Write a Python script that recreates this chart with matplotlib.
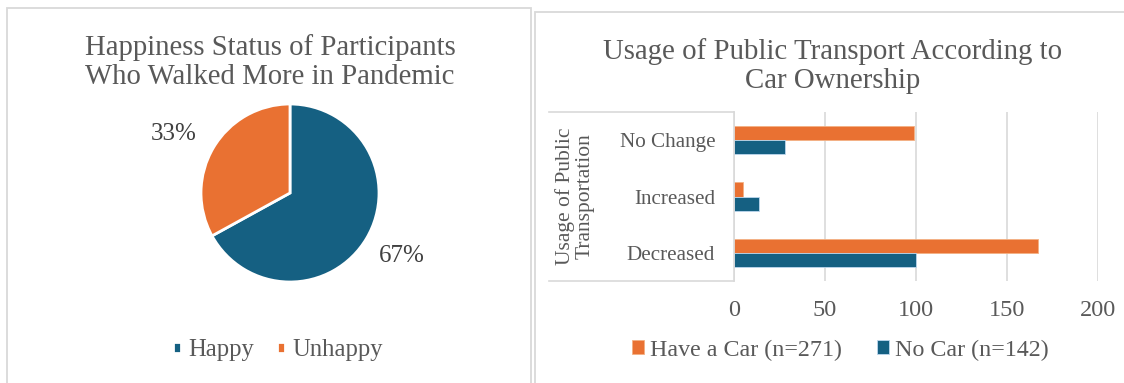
import matplotlib
matplotlib.use('Agg')
import matplotlib.pyplot as plt
from matplotlib.patches import Rectangle
import numpy as np

# ---- data ----
pie_labels = ['Happy', 'Unhappy']
pie_values = [67, 33]

categories = ['Decreased', 'Increased', 'No Change']
have_car = [167, 5, 99]
no_car = [100, 14, 28]
series_names = ['Have a Car (n=271)', 'No Car (n=142)']
x_ticks = [0, 50, 100, 150, 200]

BLUE = '#156082'
ORANGE = '#E97132'
TEXT = '#595959'
GRID = '#D9D9D9'

plt.rcParams['font.family'] = ['Liberation Serif', 'DejaVu Serif']
plt.rcParams['text.color'] = TEXT

W, H = 1124, 383
fig = plt.figure(figsize=(W / 100, H / 100), dpi=100)


def rect(x0, y0, x1, y1):  # pixel box (top-left origin) -> figure fraction
    return [x0 / W, 1 - y1 / H, (x1 - x0) / W, (y1 - y0) / H]


# panel borders
fig.patches.append(Rectangle((7 / W, -0.05), (531 - 7) / W, 1.05 - 8 / H, transform=fig.transFigure,
                             fill=False, edgecolor=GRID, linewidth=1.3))
fig.patches.append(Rectangle((535 / W, -0.05), 0.6, 1.05 - 12 / H, transform=fig.transFigure,
                             fill=False, edgecolor=GRID, linewidth=1.3))

# ---- pie ----
fig.text(270 / W, 1 - 62 / H, 'Happiness Status of Participants\nWho Walked More in Pandemic',
         ha='center', va='center', fontsize=20.7, color=TEXT, linespacing=1.13)
cx, cy, r = 290, 193, 89
ax1 = fig.add_axes(rect(cx - r, cy - r, cx + r, cy + r))
wedges, texts, autotexts = ax1.pie(pie_values, labels=pie_labels, colors=[BLUE, ORANGE], startangle=90,
                                   counterclock=False, autopct='%1.0f%%', pctdistance=1.46,
                                   labeldistance=None, radius=1,
                                   wedgeprops=dict(edgecolor='white', linewidth=2))
# label spots as in the reference (pixels -> pie units)
autotexts[0].set_position(((402 - cx) / r, (cy - 256) / r))
autotexts[1].set_position(((174 - cx) / r, (cy - 134) / r))
for t in autotexts:
    t.set_fontsize(18)
    t.set_color('#404040')
ax1.set_xlim(-1, 1)
ax1.set_ylim(-1, 1)
ax1.set_aspect('equal')
fig.legend(wedges, pie_labels, loc='center', bbox_to_anchor=(278 / W, 1 - 350 / H), ncol=2, frameon=False,
           fontsize=17.7, handlelength=0.33, handleheight=0.33, handletextpad=0.3, columnspacing=0.95,
           labelcolor=TEXT)

# ---- bars ----
fig.text(833 / W, 1 - 66 / H, 'Usage of Public Transport According to\nCar Ownership',
         ha='center', va='center', fontsize=20.8, color=TEXT, linespacing=1.13)
ax2 = fig.add_axes(rect(734, 112, 1098, 281))
y = np.arange(len(categories))
bh = 0.25
b1 = ax2.barh(y + bh / 2, have_car, height=bh, color=ORANGE, edgecolor='#F4B183', linewidth=0.6)
b2 = ax2.barh(y - bh / 2, no_car, height=bh, color=BLUE, edgecolor='#BDD7EE', linewidth=0.6)
ax2.set_xlim(0, 200)
ax2.set_ylim(-0.5, 2.5)
ax2.set_xticks(x_ticks)
ax2.set_yticks(y)
ax2.set_yticklabels(categories, fontsize=15.2)
ax2.tick_params(axis='y', length=0, pad=13.5, colors=TEXT)
ax2.tick_params(axis='x', length=0, pad=14, labelsize=17.5, colors=TEXT)
ax2.grid(axis='x', color=GRID, linewidth=1.2)
ax2.set_axisbelow(True)
for s in ['top', 'right', 'bottom']:
    ax2.spines[s].set_visible(False)
ax2.spines['left'].set_color(GRID)
ax2.spines['left'].set_linewidth(1.2)
lx = (549 - 734) / (1098 - 734)
ax2.plot([lx, 0], [1, 1], transform=ax2.transAxes, clip_on=False, color=GRID, linewidth=1.2)
ax2.plot([lx, 0], [0, 0], transform=ax2.transAxes, clip_on=False, color=GRID, linewidth=1.2)
fig.text(575 / W, 1 - 196 / H, 'Usage of Public\nTransportation', rotation=90, ha='center', va='center',
         multialignment='center', fontsize=15.5, color=TEXT, linespacing=1.05)

fig.legend([b1, b2], series_names, loc='center', bbox_to_anchor=(840 / W, 1 - 350 / H), ncol=2,
           frameon=False, fontsize=17.3, handlelength=0.5, handleheight=0.5, handletextpad=0.25,
           columnspacing=1.45, labelcolor=TEXT)

plt.savefig('out.png', dpi=100)
